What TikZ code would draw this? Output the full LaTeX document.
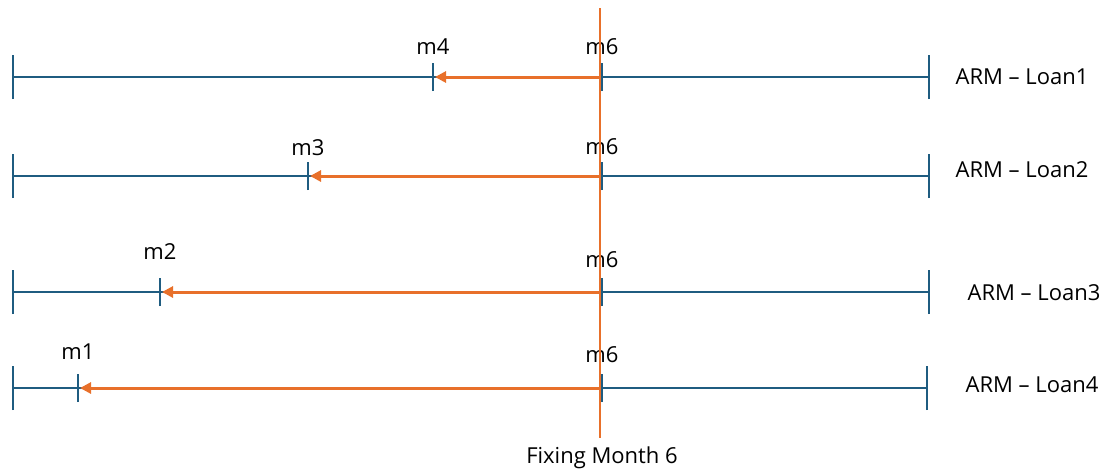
\documentclass[tikz,border=0pt]{standalone}
\usepackage{fontspec}
\setmainfont{Open Sans}
\usetikzlibrary{arrows.meta}
\definecolor{lineblue}{HTML}{1F5C80}
\definecolor{fixorange}{HTML}{E8702A}
\tikzset{
  tl/.style={draw=lineblue, line width=2.6pt},
  tick/.style={draw=lineblue, line width=2.6pt},
  fixarrow/.style={draw=fixorange, line width=3pt, -{Triangle[length=11pt,width=11pt]}},
  lbl/.style={font=\fontsize{22}{26}\selectfont, text=black, inner sep=0pt},
}
\begin{document}
\begin{tikzpicture}[x=1pt,y=-1pt]
\useasboundingbox (0,0) rectangle (1112,475);
\foreach \r/\y/\rx/\mx/\mn/\my/\sy/\lx/\ly in {
  1/77/929/433/m4/47/47/1022/77,
  2/176/929/308/m3/148/147/1022/170,
  3/292/929/160/m2/252/260/1034/293,
  4/388/927/78/m1/352/355/1032/385}{
  \coordinate (L\r) at (13,\y);
  \coordinate (R\r) at (\rx,\y);
  \coordinate (M\r) at (\mx,\y);
  \coordinate (S\r) at (602,\y);
  \coordinate (F\r) at (600,\y);
  \draw[tl] (L\r) -- (R\r);
  \draw[tick] ([yshift=-22pt]L\r) -- ([yshift=22pt]L\r);
  \draw[tick] ([yshift=-22pt]R\r) -- ([yshift=22pt]R\r);
  \draw[tick] ([yshift=-14pt]M\r) -- ([yshift=14pt]M\r);
  \draw[tick] ([yshift=-14pt]S\r) -- ([yshift=14pt]S\r);
  \draw[fixarrow] (F\r) -- ([xshift=2pt]M\r);
  \node[lbl] (mlab\r) at (\mx,\my) {\mn};
  \node[lbl] (slab\r) at (602,\sy) {m6};
  \node[lbl] (loan\r) at (\lx,\ly) {ARM – Loan\r};
}
\coordinate (vtop) at (600,8);
\coordinate (vbot) at (600,438);
\draw[draw=fixorange, line width=2.8pt] (vtop) -- (vbot);
\node[lbl] (fix) at (602,458) {Fixing Month 6};
\end{tikzpicture}
\end{document}
